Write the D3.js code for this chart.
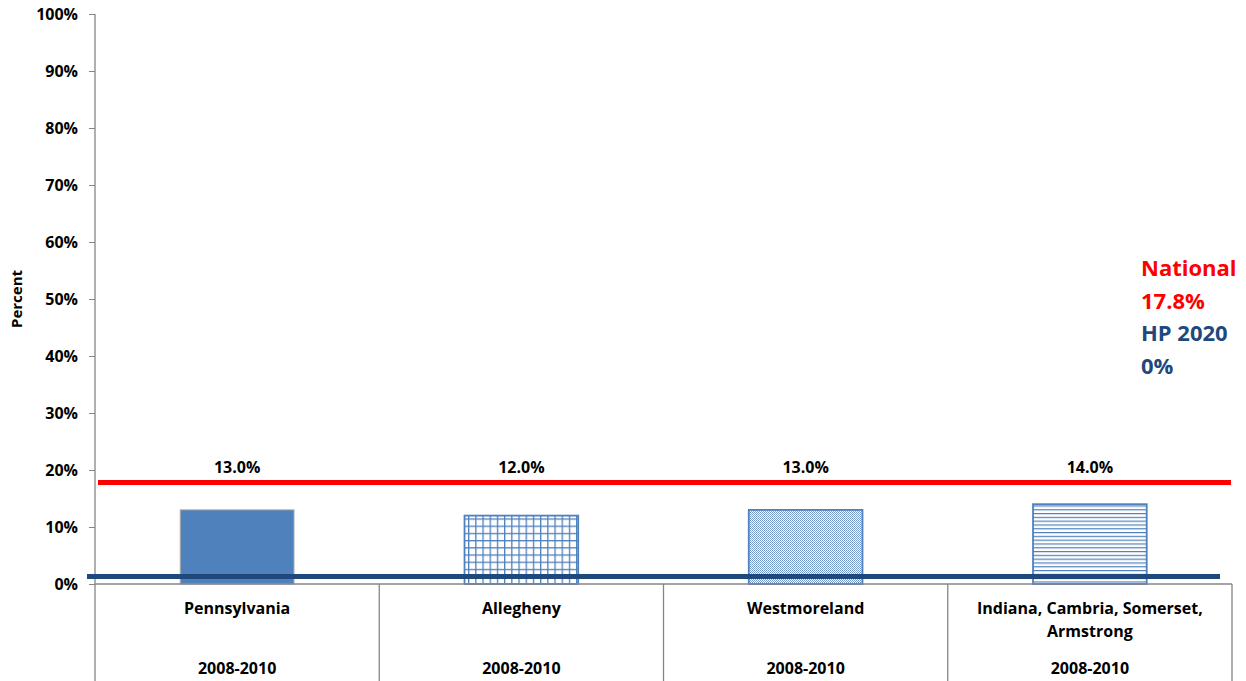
<!DOCTYPE html>
<html>
<head>
<meta charset="utf-8">
<script src="https://cdn.jsdelivr.net/npm/d3@7"></script>
<style>
  body { margin: 0; background: #fff; }
  svg { display: block; font-family: "Open Sans", "Liberation Sans", sans-serif; font-weight: bold; }
</style>
</head>
<body>
<svg id="chart" width="1246" height="681"></svg>
<script>
// Regions and their rates (percent)
const regions = ["Pennsylvania", "Allegheny", "Westmoreland", "Indiana, Cambria, Somerset, Armstrong"];
const regionLines = [["Pennsylvania"], ["Allegheny"], ["Westmoreland"], ["Indiana, Cambria, Somerset,", "Armstrong"]];
const periods = ["2008-2010", "2008-2010", "2008-2010", "2008-2010"];
const rates = [13.0, 12.0, 13.0, 14.0];
const rateLabels = ["13.0%", "12.0%", "13.0%", "14.0%"];
const yTicks = [0, 10, 20, 30, 40, 50, 60, 70, 80, 90, 100];

// Benchmarks
const nationalRate = 17.8;
const hp2020Target = 0;
const legendLines = [
  { text: "National", color: "#ff0000" },
  { text: "17.8%", color: "#ff0000" },
  { text: "HP 2020", color: "#1f497d" },
  { text: "0%", color: "#1f497d" }
];

const svg = d3.select("#chart");
const axisColor = "#868686";
const barBlue = "#4f81bd";

const y = d3.scaleLinear().domain([0, 100]).range([584, 14]);
const x = d3.scaleBand().domain(regions).range([95, 1232]).padding(0);
const barW = x.bandwidth() * 0.4;

// Fill patterns for the bars
const defs = svg.append("defs");
const grid = defs.append("pattern").attr("id", "pat-grid")
  .attr("patternUnits", "userSpaceOnUse").attr("width", 7.2).attr("height", 7.2);
grid.append("rect").attr("width", 7.2).attr("height", 7.2).attr("fill", "#fff");
grid.append("rect").attr("x", 0).attr("y", 0).attr("width", 1.3).attr("height", 7.2).attr("fill", barBlue);
grid.append("rect").attr("x", 0).attr("y", 0).attr("width", 7.2).attr("height", 1.3).attr("fill", barBlue);

const dots = defs.append("pattern").attr("id", "pat-dots")
  .attr("patternUnits", "userSpaceOnUse").attr("width", 2).attr("height", 2);
dots.append("rect").attr("width", 2).attr("height", 2).attr("fill", "#fff");
dots.append("rect").attr("x", 0).attr("y", 0).attr("width", 1).attr("height", 1).attr("fill", "#6f95c8");
dots.append("rect").attr("x", 1).attr("y", 1).attr("width", 1).attr("height", 1).attr("fill", "#7fa2d0");

const hlines = defs.append("pattern").attr("id", "pat-hlines")
  .attr("patternUnits", "userSpaceOnUse").attr("width", 8).attr("height", 3.8);
hlines.append("rect").attr("width", 8).attr("height", 3.8).attr("fill", "#fff");
hlines.append("rect").attr("x", 0).attr("y", 0).attr("width", 8).attr("height", 1.2).attr("fill", barBlue);

const fills = ["#4f81bd", "url(#pat-grid)", "url(#pat-dots)", "url(#pat-hlines)"];
const strokes = ["#a6a6a6", barBlue, barBlue, barBlue];

// Y axis
const yAxis = svg.append("g").attr("transform", "translate(95,0)")
  .call(d3.axisLeft(y).tickValues(yTicks).tickFormat(d => d + "%").tickSize(6).tickPadding(11));
yAxis.select(".domain").remove();
yAxis.selectAll(".tick line").attr("stroke", axisColor);
yAxis.selectAll(".tick text").attr("fill", "#000").style("font-size", "16px")
  .style("font-family", "'Open Sans', sans-serif").style("font-weight", "bold");
svg.append("line").attr("x1", 95).attr("x2", 95).attr("y1", y(100)).attr("y2", 681)
  .attr("stroke", axisColor).attr("stroke-width", 1.3);

svg.append("text").attr("transform", `translate(22,${y(50)}) rotate(-90)`)
  .attr("text-anchor", "middle").style("font-size", "15px").text("Percent");

// Bars
svg.append("g").selectAll("rect").data(regions).join("rect")
  .attr("x", d => x(d) + (x.bandwidth() - barW) / 2)
  .attr("width", barW)
  .attr("y", (d, i) => y(rates[i]))
  .attr("height", (d, i) => y(0) - y(rates[i]))
  .attr("fill", (d, i) => fills[i])
  .attr("stroke", (d, i) => strokes[i])
  .attr("stroke-width", (d, i) => i === 0 ? 1 : 1.8);

// Value labels, all on one row above the bars
svg.append("g").selectAll("text").data(regions).join("text")
  .attr("x", d => x(d) + x.bandwidth() / 2)
  .attr("y", y(20) + 2.5)
  .attr("text-anchor", "middle").style("font-size", "16px")
  .text((d, i) => rateLabels[i]);

// Category axis: baseline and dividers
svg.append("line").attr("x1", 95).attr("x2", 1232).attr("y1", y(0)).attr("y2", y(0))
  .attr("stroke", axisColor).attr("stroke-width", 1.3);
svg.append("g").selectAll("line").data(regions.slice(1).concat(["end"])).join("line")
  .attr("x1", d => d === "end" ? x.range()[1] : x(d))
  .attr("x2", d => d === "end" ? x.range()[1] : x(d))
  .attr("y1", y(0)).attr("y2", 681)
  .attr("stroke", axisColor).attr("stroke-width", 1.3);

const cat = svg.append("g").selectAll("g").data(regions).join("g")
  .attr("transform", d => `translate(${x(d) + x.bandwidth() / 2},0)`);
cat.each(function (d, i) {
  const g = d3.select(this);
  regionLines[i].forEach((ln, k) => {
    g.append("text").attr("y", 614 + k * 23).attr("text-anchor", "middle")
      .style("font-size", "16px").text(ln);
  });
  g.append("text").attr("y", 674).attr("text-anchor", "middle")
    .style("font-size", "16px").text(periods[i]);
});

// Benchmark lines
svg.append("line").attr("x1", 98).attr("x2", 1231)
  .attr("y1", y(nationalRate)).attr("y2", y(nationalRate))
  .attr("stroke", "#ff0000").attr("stroke-width", 5);
// The target line sits just above the baseline so the axis stays visible
svg.append("line").attr("x1", 87).attr("x2", 1220)
  .attr("y1", y(hp2020Target) - 7.5).attr("y2", y(hp2020Target) - 7.5)
  .attr("stroke", "#1f497d").attr("stroke-width", 5);

// Benchmark legend text
svg.append("g").selectAll("text").data(legendLines).join("text")
  .attr("x", 1141).attr("y", (d, i) => 276 + i * 32.7)
  .attr("fill", d => d.color).style("font-size", "22px")
  .text(d => d.text);
</script>
</body>
</html>
